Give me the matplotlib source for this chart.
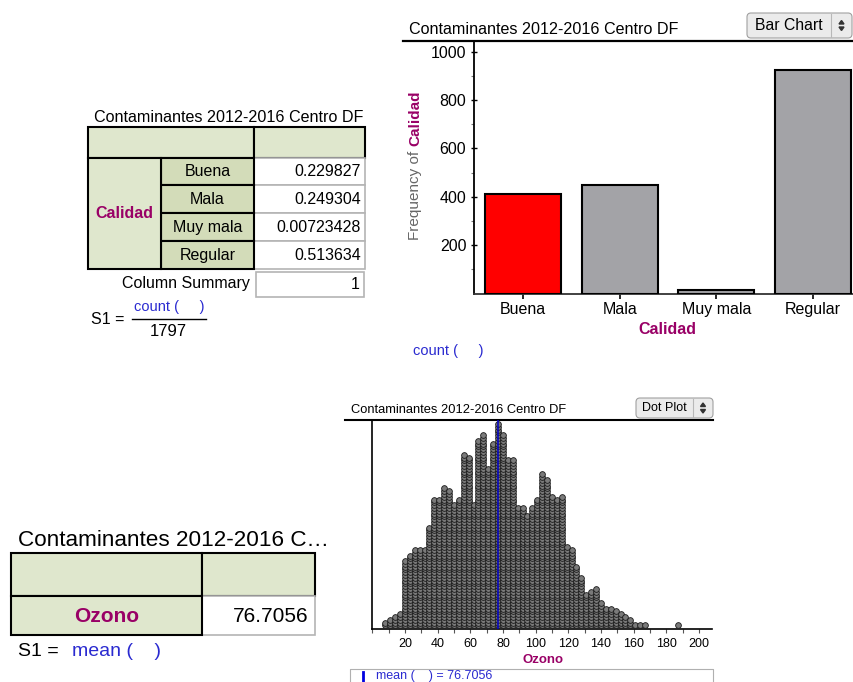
import matplotlib
matplotlib.use('Agg')
import matplotlib.pyplot as plt
from matplotlib.patches import Rectangle, FancyBboxPatch, Polygon
import numpy as np

plt.rcParams['font.family'] = ['Liberation Sans', 'DejaVu Sans']

# ---------------- data ----------------
title = "Contaminantes 2012-2016 Centro DF"
calidad_cats = ["Buena", "Mala", "Muy mala", "Regular"]
calidad_counts = [413, 448, 13, 923]
total_n = 1797
yticks_bar = [200, 400, 600, 800, 1000]

ozone_bins = [8, 11, 14, 17, 20, 23, 26, 29, 32, 35, 38, 41, 44, 47, 50, 53, 56, 59,
              62, 65, 68, 71, 74, 77, 80, 83, 86, 89, 92, 95, 98, 101, 104, 107, 110,
              113, 116, 119, 122, 125, 128, 131, 134, 137, 140, 143, 146, 149, 152,
              155, 158, 161, 164, 167, 187]
ozone_counts = [2, 3, 4, 5, 24, 26, 28, 28, 28, 36, 46, 46, 50, 49, 44, 46, 62, 61,
                44, 67, 69, 57, 66, 73, 69, 60, 60, 43, 43, 40, 43, 46, 55, 53, 47,
                46, 47, 29, 28, 22, 18, 12, 13, 14, 9, 7, 7, 6, 5,
                4, 3, 1, 1, 1, 1]
ozone_mean = 76.7056
ozone_ticks = [0, 20, 40, 60, 80, 100, 120, 140, 160, 180, 200]

# ---------------- style ----------------
PURPLE = '#990066'
BLUE = '#2a2ad0'
GL = '#dfe7cd'
GD = '#d3dcb9'
GRAYB = '#b4b4b4'

W, H = 854, 682
fig = plt.figure(figsize=(W / 100, H / 100), dpi=100)


def axes_px(l, t, r, b):
    return fig.add_axes([l / W, 1 - b / H, (r - l) / W, (b - t) / H])


ov = axes_px(0, 0, W, H)
ov.set_xlim(0, W)
ov.set_ylim(H, 0)
ov.axis('off')


def rect(x0, y0, x1, y1, fc, ec, lw):
    ov.add_patch(Rectangle((x0, y0), x1 - x0, y1 - y0, facecolor=fc,
                           edgecolor=ec, linewidth=lw))


def button(x0, y0, x1, y1, label, fs, div):
    ov.add_patch(FancyBboxPatch((x0, y0), x1 - x0, y1 - y0,
                                boxstyle='round,pad=0,rounding_size=4',
                                facecolor='#ebebeb', edgecolor='#a0a0a0', linewidth=0.8))
    ov.text((x0 + div) / 2, (y0 + y1) / 2, label, fontsize=fs, ha='center', va='center')
    ov.plot([div, div], [y0 + 1, y1 - 1], color='#b8b8b8', lw=0.8)
    cx = (div + x1) / 2
    cy = (y0 + y1) / 2
    ov.add_patch(Polygon([[cx - 2.5, cy - 1.5], [cx + 2.5, cy - 1.5], [cx, cy - 5]],
                         closed=True, color='#333333'))
    ov.add_patch(Polygon([[cx - 2.5, cy + 1.5], [cx + 2.5, cy + 1.5], [cx, cy + 5]],
                         closed=True, color='#333333'))


# ---------------- left table (Calidad proportions) ----------------
ov.text(228.5, 117, title, fontsize=11.6, ha='center', va='center')
rect(88, 127, 254, 157.5, GL, 'k', 1.5)
rect(254, 127, 365, 157.5, GL, 'k', 1.5)
row_h = 27.9
props = [c / total_n for c in calidad_counts]
for i, (cat, p) in enumerate(zip(calidad_cats, props)):
    y0 = 157.5 + i * row_h
    rect(254, y0, 365, y0 + row_h, 'white', GRAYB, 1.2)
for i, (cat, p) in enumerate(zip(calidad_cats, props)):
    y0 = 157.5 + i * row_h
    rect(161, y0, 254, y0 + row_h, GD, 'k', 1.5)
    ov.text(207.5, y0 + row_h / 2, cat, fontsize=11.5, ha='center', va='center')
    ov.text(361, y0 + row_h / 2, '%.6g' % p, fontsize=11.5, ha='right', va='center')
rect(88, 157.5, 161, 157.5 + 4 * row_h, GL, 'k', 1.5)
ov.text(124.5, 213.5, 'Calidad', fontsize=11.5, fontweight='bold', color=PURPLE,
        ha='center', va='center')
ov.text(250, 283.5, 'Column Summary', fontsize=11.5, ha='right', va='center')
rect(256, 272, 364, 297, 'white', GRAYB, 1.2)
ov.text(360, 284.5, '%g' % sum(props), fontsize=11.5, ha='right', va='center')
ov.text(91, 319, 'S1 =', fontsize=11.5, ha='left', va='center')
ov.text(169, 307.5, 'count (     )', fontsize=10.5, color=BLUE, ha='center', va='center')
ov.plot([132, 206], [319, 319], color='k', lw=1)
ov.text(168, 331, str(total_n), fontsize=12, ha='center', va='center')

# ---------------- bar chart ----------------
ov.text(409, 30, title, fontsize=11.6, ha='left', va='center')
ov.plot([403, 854], [41, 41], color='k', lw=1.6)
button(747, 13, 852, 38, 'Bar Chart', 11.3, 831)

ax1 = axes_px(474, 41, 854, 293.5)
xpos = np.arange(len(calidad_cats))
bar_colors = ['#ff0000'] + ['#a3a3a7'] * (len(calidad_cats) - 1)
ax1.bar(xpos, calidad_counts, width=0.79, color=bar_colors, edgecolor='black',
        linewidth=1.5, zorder=3)
ax1.set_xlim(-0.511, 3.427)
ax1.set_ylim(0, 1044)
for s in ['top', 'right']:
    ax1.spines[s].set_visible(False)
ax1.spines['left'].set_linewidth(1.3)
ax1.spines['bottom'].set_linewidth(1.3)
ax1.spines['bottom'].set_color('#333333')
ax1.set_yticks(yticks_bar)
ax1.set_yticks([100, 300, 500, 700, 900], minor=True)
ax1.tick_params(axis='y', which='major', direction='inout', length=5, width=1,
                labelsize=11.5, pad=3)
ax1.tick_params(axis='y', which='minor', direction='out', length=2.5, width=0.8,
                color='#777777')
ax1.set_xticks(xpos)
ax1.set_xticklabels(calidad_cats)
ax1.tick_params(axis='x', direction='out', length=3.5, width=1.2, labelsize=11.5, pad=2.5)
ax1.patch.set_alpha(0)

ov.text(415, 146, 'Calidad', rotation=90, fontsize=11, fontweight='bold', color=PURPLE,
        ha='center', va='bottom')
ov.text(415, 151, 'Frequency of', rotation=90, fontsize=11, color='#666666',
        ha='center', va='top')
ov.text(667, 329, 'Calidad', fontsize=11.5, fontweight='bold', color=PURPLE,
        ha='center', va='center')
ov.text(413, 350.5, 'count (     )', fontsize=10.5, color=BLUE, ha='left', va='center')

# ---------------- bottom-left table (mean Ozono) ----------------
ov.text(18, 540, 'Contaminantes 2012-2016 C\u2026', fontsize=16.2, ha='left', va='center')
rect(11, 553, 202, 596, GL, 'k', 1.5)
rect(202, 553, 315, 596, GL, 'k', 1.5)
rect(202, 596, 315, 635, 'white', GRAYB, 1.2)
rect(11, 596, 202, 635, GL, 'k', 1.5)
ov.text(107, 616, 'Ozono', fontsize=15, fontweight='bold', color=PURPLE,
        ha='center', va='center')
ov.text(309, 616, '%.6g' % ozone_mean, fontsize=15, ha='right', va='center')
ov.text(18, 652, 'S1 =', fontsize=14, ha='left', va='center')
ov.text(72, 652, 'mean (    )', fontsize=14, color=BLUE, ha='left', va='center')

# ---------------- dot plot ----------------
ov.text(351, 410, title, fontsize=9.3, ha='left', va='center')
ov.plot([345, 713], [420, 420], color='k', lw=1.5)
button(636, 398, 713, 418, 'Dot Plot', 9, 693)

ax3 = axes_px(371.7, 420, 712, 629.3)
xs, ys = [], []
for b, c in zip(ozone_bins, ozone_counts):
    for k in range(c):
        xs.append(b)
        ys.append(k)
ax3.scatter(xs, ys, s=17, facecolor='#7a7a7a', edgecolor='#1a1a1a', linewidths=0.6,
            zorder=3)
ax3.axvline(ozone_mean, color='#0000c8', lw=1.1, zorder=4)
ax3.set_xlim(-0.37, 208.0)
ax3.set_ylim(-1.36, 73.4)
for s in ['top', 'right']:
    ax3.spines[s].set_visible(False)
ax3.spines['left'].set_linewidth(1.2)
ax3.spines['bottom'].set_linewidth(1.2)
ax3.set_yticks([])
ax3.set_xticks(ozone_ticks)
ax3.set_xticklabels([''] + [str(t) for t in ozone_ticks[1:]])
ax3.set_xticks(np.arange(10, 210, 20), minor=True)
ax3.tick_params(axis='x', which='both', direction='out', length=3, width=0.8,
                color='#555555', labelsize=9, pad=3)
ax3.patch.set_alpha(0)

ov.text(543, 660, 'Ozono', fontsize=9.5, fontweight='bold', color=PURPLE,
        ha='center', va='center')
ov.plot([350, 350, 713, 713], [684, 669, 669, 684], color='#b0b0b0', lw=0.8)
ov.plot([363, 363], [672, 682], color='#0000e0', lw=2)
ov.text(376, 676.5, 'mean (    ) = %.6g' % ozone_mean, fontsize=9, color=BLUE,
        ha='left', va='center')

fig.savefig('out.png', dpi=100)
